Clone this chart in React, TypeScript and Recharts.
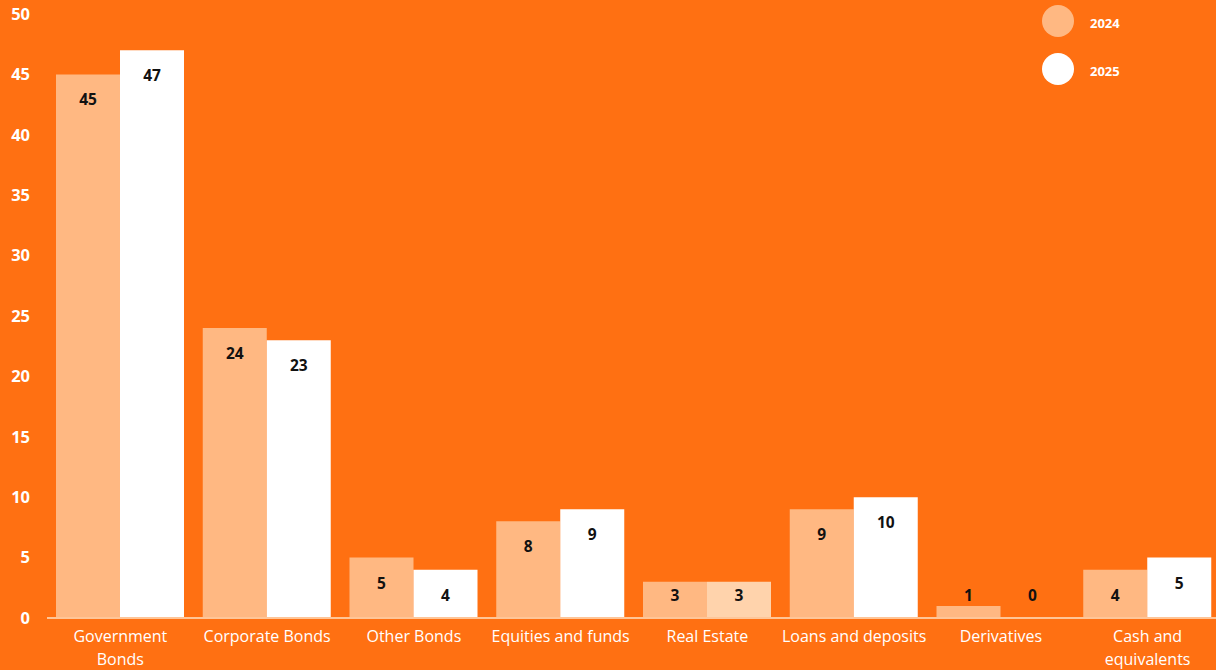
import React from "react";
import { BarChart, Bar, XAxis, YAxis, Cell, LabelList } from "recharts";

const categories = [
  "Government Bonds",
  "Corporate Bonds",
  "Other Bonds",
  "Equities and funds",
  "Real Estate",
  "Loans and deposits",
  "Derivatives",
  "Cash and equivalents",
];
const values2024 = [45, 24, 5, 8, 3, 9, 1, 4];
const values2025 = [47, 23, 4, 9, 3, 10, 0, 5];
const yTicks = [0, 5, 10, 15, 20, 25, 30, 35, 40, 45, 50];
const seriesNames = ["2024", "2025"];
// two-line tick labels as they wrap in the original
const tickLines: Record<string, string[]> = {
  "Government Bonds": ["Government", "Bonds"],
  "Cash and equivalents": ["Cash and", "equivalents"],
};

const data = categories.map((c, i) => ({ name: c, y2024: values2024[i], y2025: values2025[i] }));

const BG = "#FF7012";
const PEACH = "#FFB882";
const LIGHT_PEACH = "#FFD3AC";
const FONT = "'Open Sans', sans-serif";
const PLOT_BOTTOM = 618;

const XTick = ({ x, y, payload }: any) => {
  const lines = tickLines[payload.value] ?? [payload.value];
  return (
    <text x={x} y={y} textAnchor="middle" fill="#fff" fontSize={16} fontFamily={FONT}>
      {lines.map((l, i) => (
        <tspan key={i} x={x} dy={i === 0 ? 16 : 23}>
          {l}
        </tspan>
      ))}
    </text>
  );
};

// value label sits just inside the top of the bar, but never lower than just above the axis
const ValueLabel = (props: any) => {
  const { x, y, width, height, value } = props;
  const top = Math.min(y, y + height);
  const cy = Math.min(top + 25, PLOT_BOTTOM - 23);
  return (
    <text
      x={x + width / 2}
      y={cy}
      textAnchor="middle"
      dominantBaseline="central"
      fill="#111"
      fontWeight={700}
      fontSize={15.5}
      fontFamily={FONT}
    >
      {value}
    </text>
  );
};

const LegendBox = () => (
  <div style={{ position: "absolute", left: 1042, top: -3, fontFamily: FONT }}>
    {seriesNames.map((label, i) => (
      <div key={label} style={{ display: "flex", alignItems: "center", height: 48 }}>
        <div style={{ width: 32, height: 32, borderRadius: 16, background: i === 0 ? PEACH : "#fff" }} />
        <span style={{ color: "#fff", fontWeight: 700, fontSize: 13, marginLeft: 16, marginTop: 4 }}>
          {label}
        </span>
      </div>
    ))}
  </div>
);

export default function App() {
  return (
    <div
      style={{
        position: "absolute",
        left: 0,
        top: 0,
        width: 1216,
        height: 670,
        background: BG,
        overflow: "hidden",
      }}
    >
      <BarChart
        width={1221}
        height={670}
        data={data}
        margin={{ top: 14, right: 0, left: 0, bottom: 0 }}
        barGap={0}
        barSize={64}
      >
        <XAxis
          dataKey="name"
          interval={0}
          tick={<XTick />}
          tickLine={false}
          axisLine={{ stroke: "#FFC597", strokeWidth: 2 }}
          height={670 - PLOT_BOTTOM}
        />
        <YAxis
          domain={[0, 50]}
          ticks={yTicks}
          width={47}
          axisLine={false}
          tickLine={false}
          tickMargin={11}
          tick={{ fill: "#fff", fontSize: 16.5, fontWeight: 700, fontFamily: FONT }}
        />
        <Bar dataKey="y2024" name="2024" fill={PEACH} isAnimationActive={false}>
          <LabelList dataKey="y2024" content={<ValueLabel />} />
        </Bar>
        <Bar dataKey="y2025" name="2025" fill="#fff" minPointSize={1} isAnimationActive={false}>
          {data.map((d) => (
            <Cell
              key={d.name}
              fill={d.y2025 === 0 ? "transparent" : d.name === "Real Estate" ? LIGHT_PEACH : "#fff"}
            />
          ))}
          <LabelList dataKey="y2025" content={<ValueLabel />} />
        </Bar>
      </BarChart>
      <LegendBox />
    </div>
  );
}
